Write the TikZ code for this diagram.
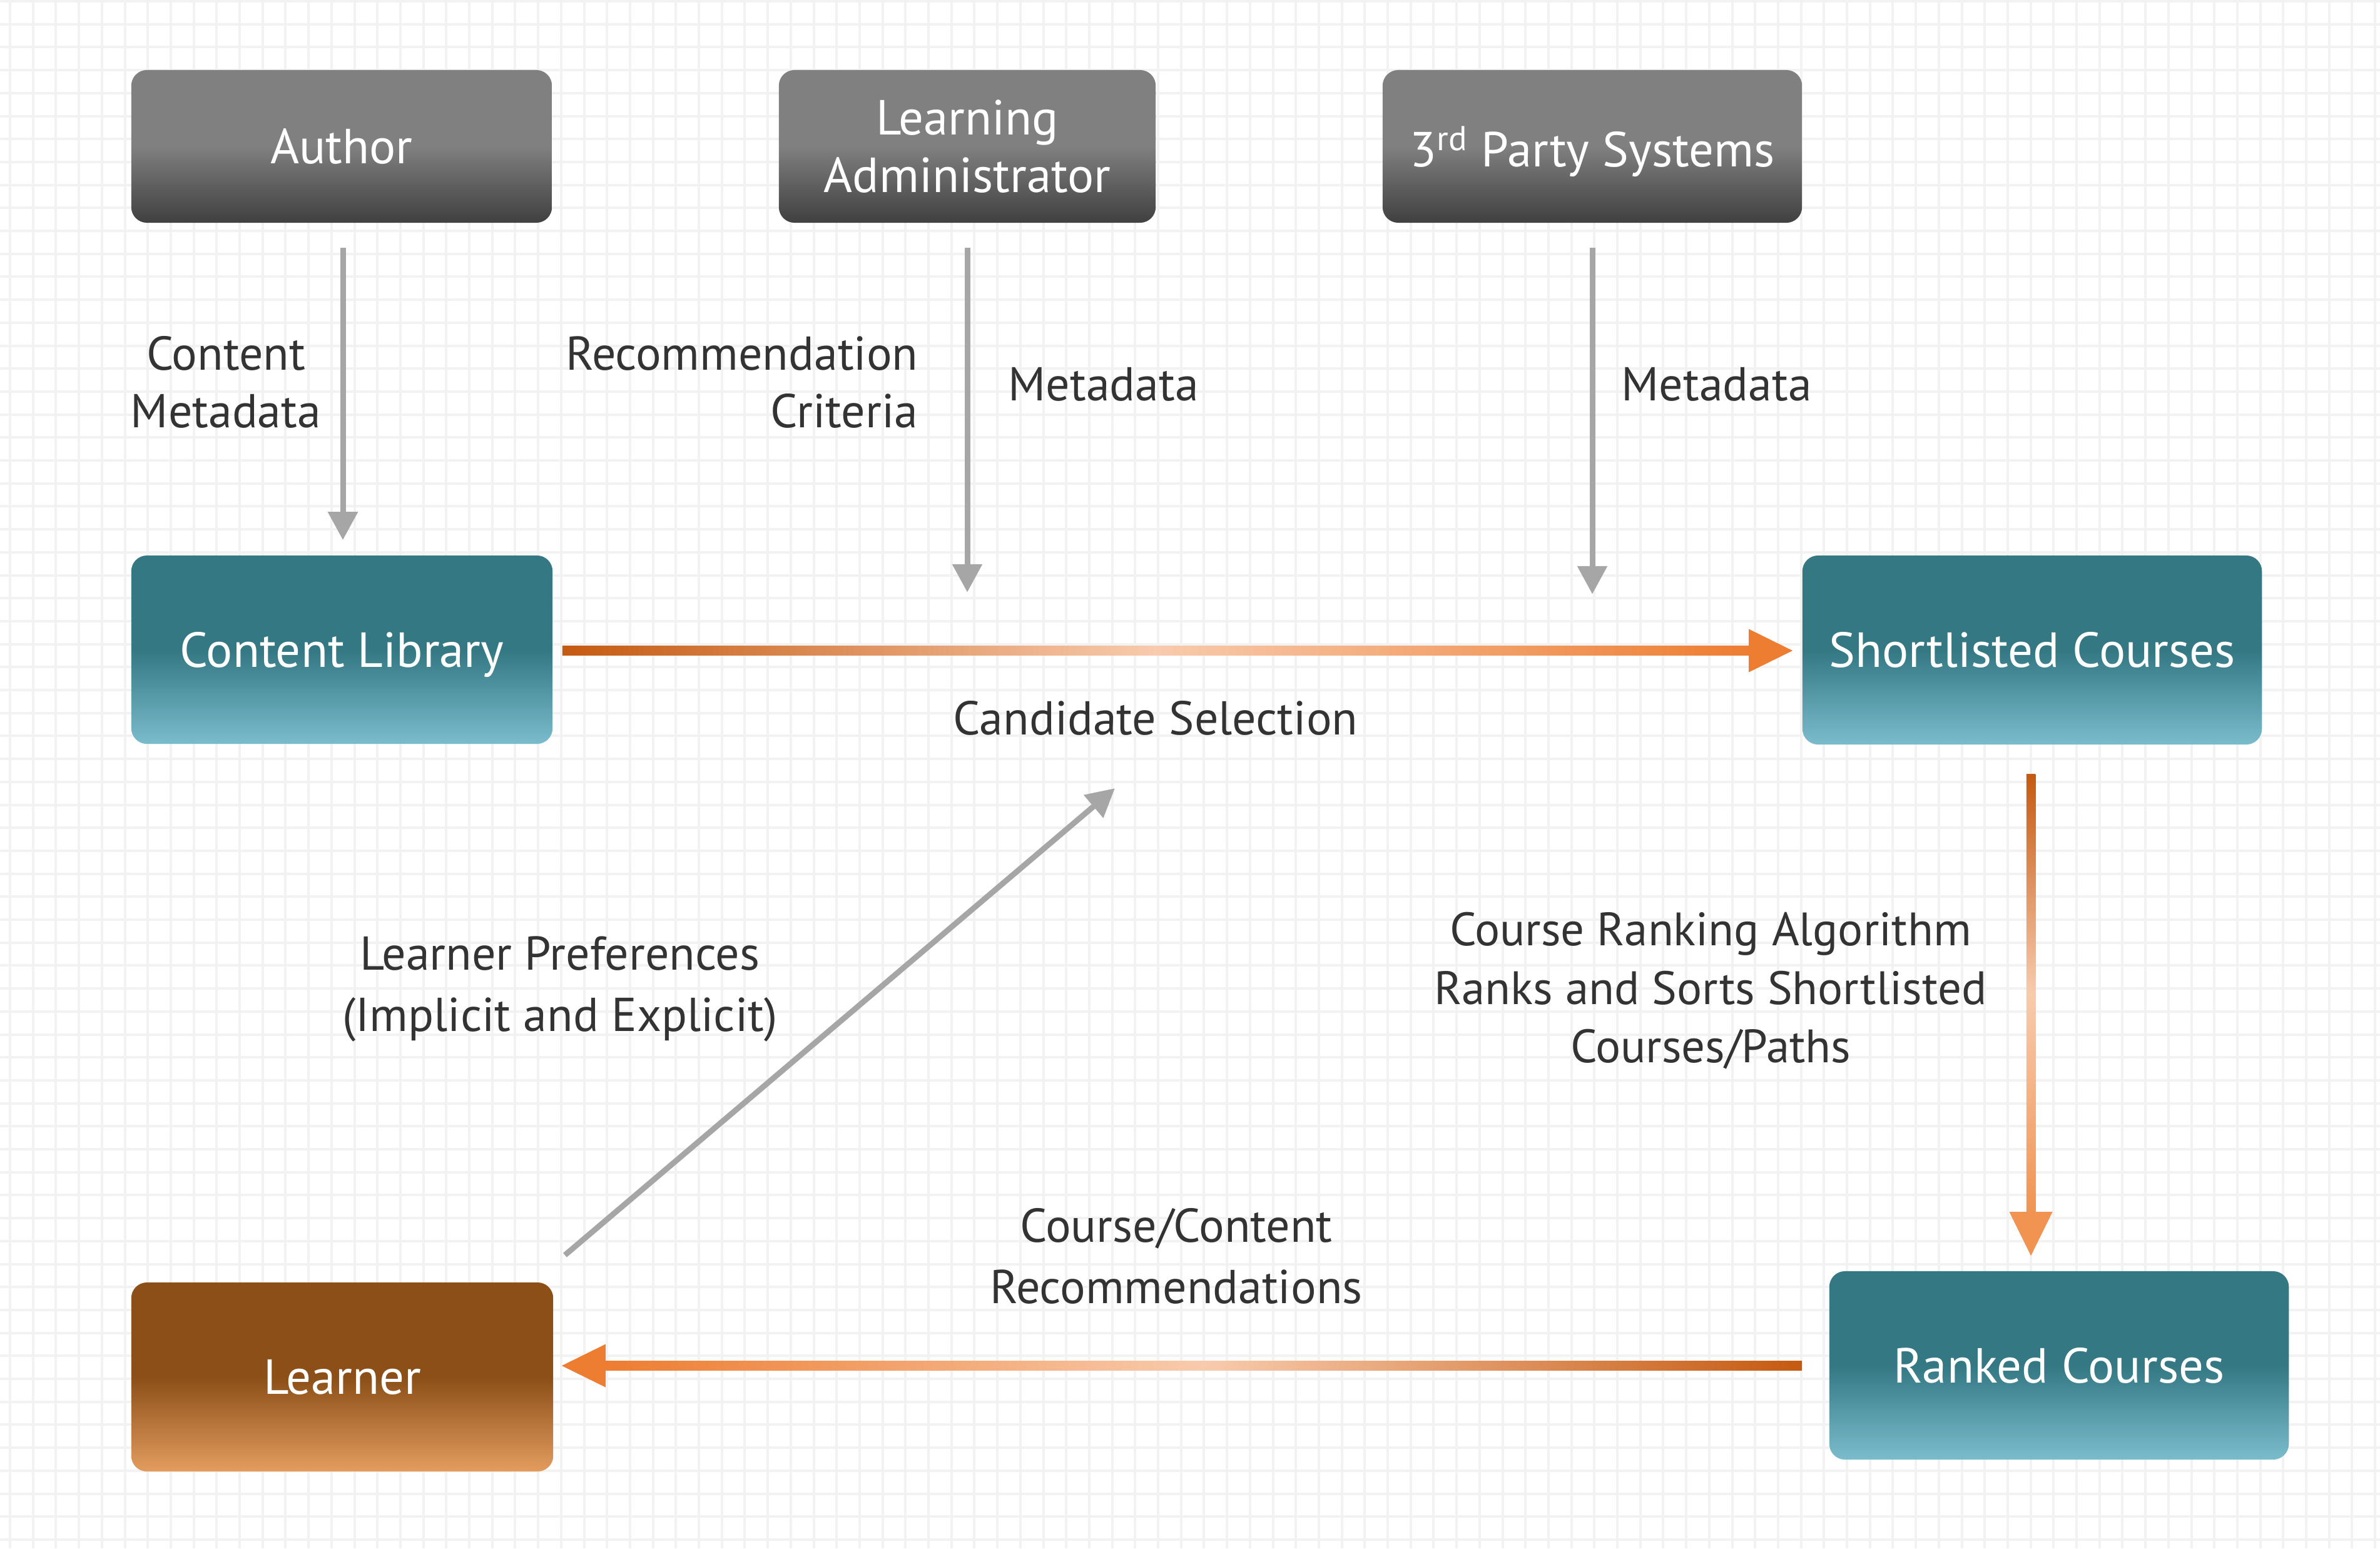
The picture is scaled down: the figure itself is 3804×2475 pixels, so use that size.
\documentclass[tikz,border=0pt]{standalone}
\usepackage{fontspec}
\setmainfont{PT Sans}
\usetikzlibrary{arrows.meta,calc}
\definecolor{gridc}{HTML}{F2F2F2}
\definecolor{grayT}{HTML}{808080}
\definecolor{grayB}{HTML}{404040}
\definecolor{tealT}{HTML}{347884}
\definecolor{tealB}{HTML}{7BBCCC}
\definecolor{brT}{HTML}{8B4F17}
\definecolor{brB}{HTML}{E39C5E}
\definecolor{odark}{HTML}{C55A11}
\definecolor{opale}{HTML}{F8CBAD}
\definecolor{oend}{HTML}{ED7D31}
\definecolor{oendb}{HTML}{F19452}
\definecolor{arrg}{HTML}{A6A6A6}
\definecolor{txt}{HTML}{333333}
\pgfdeclareverticalshading{grayshade}{100bp}{color(0bp)=(grayB); color(25bp)=(grayB); color(50bp)=(grayT); color(100bp)=(grayT)}
\pgfdeclareverticalshading{tealshade}{100bp}{color(0bp)=(tealB); color(25bp)=(tealB); color(50bp)=(tealT); color(100bp)=(tealT)}
\pgfdeclareverticalshading{brshade}{100bp}{color(0bp)=(brB); color(25bp)=(brB); color(50bp)=(brT); color(100bp)=(brT)}
\begin{document}
\begin{tikzpicture}[x=0.01cm,y=-0.01cm,
  gridln/.style={draw=gridc, line width=0.04cm},
  boxbase/.style={rounded corners=0.25cm, text=white, font=\fontsize{22.4}{26.2}\selectfont, align=center, inner sep=0pt},
  graybox/.style={boxbase, shade, shading=grayshade},
  tealbox/.style={boxbase, shade, shading=tealshade},
  brbox/.style={boxbase, shade, shading=brshade},
  lbl/.style={text=txt, font=\fontsize{21.6}{26.2}\selectfont, align=center, inner sep=0pt},
  lblw/.style={lbl, font=\fontsize{21.6}{28}\selectfont},
  garrow/.style={draw=arrg, line width=0.09cm, -{Triangle[length=0.45cm,width=0.46cm]}}
]
\useasboundingbox (0,0) rectangle (3804,2475);
\fill[white] (0,0) rectangle (3804,2475);
\foreach \i in {0,...,103} \draw[gridln] ({16+36.7*\i},0) -- ({16+36.7*\i},2475);
\foreach \j in {0,...,67} \draw[gridln] (0,{2+36.7*\j}) -- (3804,{2+36.7*\j});

% boxes
\node[graybox, minimum width=6.72cm, minimum height=2.44cm] (au) at (546,234) {Author};
\node[graybox, minimum width=6.02cm, minimum height=2.44cm] (ad) at (1546,234) {Learning\\Administrator};
\node[graybox, minimum width=6.70cm, minimum height=2.44cm, text depth=0pt] (tp) at (2545,234) {3\textsuperscript{rd} Party Systems};
\node[tealbox, minimum width=6.73cm, minimum height=3.01cm, text depth=0pt] (cl) at (546.5,1038.5) {Content Library};
\node[tealbox, minimum width=7.34cm, minimum height=3.02cm] (sc) at (3248,1039) {Shortlisted Courses};
\node[tealbox, minimum width=7.34cm, minimum height=3.01cm] (rc) at (3291,2182.5) {Ranked Courses};
\node[brbox, minimum width=6.74cm, minimum height=3.02cm] (ln) at (547,2201) {Learner};

% labels
\node[lbl] (t1) at (361,611) {Content\\Metadata};
\node[lbl, anchor=east, align=right] (t2) at (1468,611) {Recommendation\\Criteria};
\node[lbl, anchor=west] (t3) at (1611,614) {Metadata};
\node[lbl, anchor=west] (t4) at (2591,614) {Metadata};
\node[lbl] (t5) at (1847,1148) {Candidate Selection};
\node[lblw] (t6) at (895,1581) {Learner Preferences\\(Implicit and Explicit)};
\node[lbl, font=\fontsize{21.3}{26.6}\selectfont] (t7) at (2734,1584) {Course Ranking Algorithm\\Ranks and Sorts Shortlisted\\Courses/Paths};
\node[lblw] (t8) at (1880,2008) {Course/Content\\Recommendations};

% gray connectors
\coordinate (adend) at ($(ad.south)+(0,590)$);
\coordinate (tpend) at ($(tp.south)+(0,593)$);
\coordinate (lpend) at ($(t5.center)+(-65,112)$);
\draw[garrow] ($(au.south)+(2,39)$) -- ($(cl.north)+(1.5,-24)$);
\draw[garrow] ($(ad.south)+(0,39)$) -- (adend);
\draw[garrow] ($(tp.south)+(0,39)$) -- (tpend);
\draw[garrow] ($(ln.north east)+(18,-43)$) -- (lpend);

% orange connector: Content Library -> Shortlisted Courses
\coordinate (o1s) at ($(cl.east)+(15,1.5)$);
\coordinate (o1t) at ($(sc.west)+(-15,1)$);
\coordinate (o1b) at ($(o1t)+(-70,0)$);
\shade[left color=odark, right color=oend, middle color=opale] ($(o1s)+(0,-7.25)$) rectangle ($(o1b)+(1,7.25)$);
\fill[oend] ($(o1b)+(0,-34.5)$) -- (o1t) -- ($(o1b)+(0,34.5)$) -- cycle;

% orange connector: Shortlisted -> Ranked
\coordinate (o2s) at ($(sc.south)+(-2,47)$);
\coordinate (o2t) at ($(rc.north)+(-45,-24)$);
\coordinate (o2b) at ($(o2t)+(0,-70)$);
\shade[top color=odark, bottom color=oendb, middle color=opale] ($(o2s)+(-7.25,0)$) rectangle ($(o2b)+(7.25,1)$);
\fill[oendb] ($(o2b)+(-34.5,0)$) -- (o2t) -- ($(o2b)+(34.5,0)$) -- cycle;

% orange connector: Ranked -> Learner
\coordinate (o3s) at ($(rc.west)+(-43,0.5)$);
\coordinate (o3t) at ($(ln.east)+(13,-18)$);
\coordinate (o3b) at ($(o3t)+(70,0)$);
\shade[left color=oend, right color=odark, middle color=opale] ($(o3b)+(-1,-7.25)$) rectangle ($(o3s)+(0,7.25)$);
\fill[oend] ($(o3b)+(0,-34.5)$) -- (o3t) -- ($(o3b)+(0,34.5)$) -- cycle;
\end{tikzpicture}
\end{document}
